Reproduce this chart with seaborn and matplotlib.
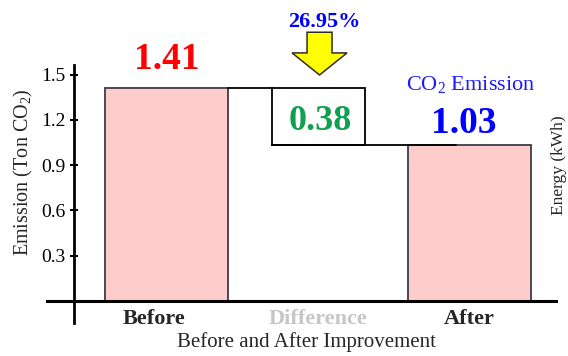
import matplotlib
matplotlib.use("Agg")
import matplotlib.pyplot as plt
from matplotlib.patches import FancyArrow
from matplotlib.transforms import ScaledTranslation
import seaborn as sns
import pandas as pd

# Data
categories = ["Before", "Difference", "After"]
stages = ["Before", "After"]
emissions = [1.41, 1.03]
y_ticks = [0.3, 0.6, 0.9, 1.2, 1.5]

before, after = emissions
diff = before - after
pct = diff / before * 100

df = pd.DataFrame({"stage": stages, "emission": emissions})

sns.set_style("white")
plt.rcParams["font.family"] = ["Liberation Serif", "DejaVu Serif"]
plt.rcParams["mathtext.fontset"] = "custom"
plt.rcParams["mathtext.rm"] = "Liberation Serif"
plt.rcParams["mathtext.default"] = "rm"

fig = plt.figure(figsize=(5.68, 3.56), dpi=100)
ax = fig.add_axes([47 / 568, 1 - 323 / 356, 509 / 568, 258 / 356])

pink = "#FFCCCC"
bar_edge = "#3c3c4a"

sns.barplot(data=df, x="stage", y="emission", order=categories, width=0.81,
            color=pink, edgecolor=bar_edge, linewidth=1.3, errorbar=None,
            saturation=1, ax=ax)

# floating difference box
box_w = 0.614
ax.bar(1, diff, bottom=after, width=box_w, facecolor="white",
       edgecolor="black", linewidth=1.3, zorder=3)

# connector lines of the waterfall
ax.plot([0.405, 1 - box_w / 2], [before, before], color="black", lw=1.3, zorder=3)
ax.plot([1 - box_w / 2, 1.91], [after, after], color="black", lw=1.3, zorder=3)

ax.set_xlim(-0.789, 2.571)
ax.set_ylim(-0.146, 1.563)

# axes spines crossing like a classic chart
for s in ["top", "right"]:
    ax.spines[s].set_visible(False)
ax.spines["left"].set_position(("data", -0.611))
ax.spines["bottom"].set_position(("data", 0))
ax.spines["left"].set_linewidth(2.0)
ax.spines["bottom"].set_linewidth(2.2)
ax.spines["left"].set_color("black")
ax.spines["bottom"].set_color("black")

ax.set_yticks(y_ticks)
ax.set_yticklabels([f"{t:.1f}" for t in y_ticks])
ax.tick_params(axis="y", direction="inout", length=6, width=1.5,
               labelsize=14, pad=3, left=True, colors="black")
ax.tick_params(axis="x", length=0, labelsize=16, pad=5.5)

for lbl in ax.get_xticklabels():
    lbl.set_fontweight("bold")
ax.get_xticklabels()[1].set_color("#c6c6c6")
ax.get_xticklabels()[0].set_transform(
    ax.get_xticklabels()[0].get_transform()
    + ScaledTranslation(-9 / 72, 0, fig.dpi_scale_trans))

ax.set_xlabel("Before and After Improvement", fontsize=15)
ax.xaxis.set_label_coords(0.51, -0.037)
ax.set_ylabel("Emission (Ton CO$_2$)", fontsize=14.5, va="center")
ax.yaxis.set_label_coords(-0.047, 0.585)

# secondary axis label on the right
ax2 = ax.twinx()
ax2.set_yticks([])
for s in ax2.spines.values():
    s.set_visible(False)
ax2.set_ylabel("Energy (kWh)", fontsize=12.5)
ax2.yaxis.set_label_coords(0.99, 0.612)

# value annotations
ax.text(0, 1.536, f"{before:.2f}", color="#FF0000", fontsize=27,
        fontweight="bold", ha="center", va="baseline")
ax.text(1.013, 1.132, f"{diff:.2f}", color="#10a050", fontsize=26,
        fontweight="bold", ha="center", va="baseline", zorder=4)
ax.text(1.96, 1.115, f"{after:.2f}", color="#0000FF", fontsize=27,
        fontweight="bold", ha="center", va="baseline")
ax.text(2.01, 1.397, "CO$_2$ Emission", color="#1a1aff", fontsize=16,
        ha="center", va="baseline")
ax.text(1.04, 1.817, f"{pct:.2f}%", color="#0000FF", fontsize=16,
        fontweight="bold", ha="center", va="baseline", clip_on=False)

# reduction arrow
arrow = FancyArrow(1.01, 1.78, 0, 1.497 - 1.78, width=0.165, head_width=0.363,
                   head_length=0.146, length_includes_head=True,
                   facecolor="#FFFF00", edgecolor="#2e2e20", lw=1.1,
                   clip_on=False, zorder=5)
ax.add_patch(arrow)

fig.savefig("out.png", dpi=100)
